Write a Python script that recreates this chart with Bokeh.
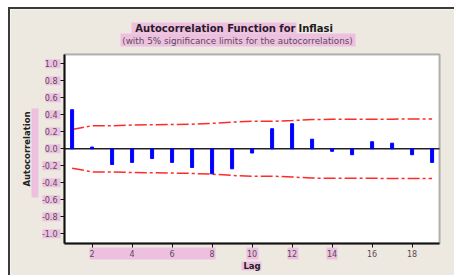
from bokeh.plotting import figure
from bokeh.models import Range1d, FixedTicker, NumeralTickFormatter, Label, BoxAnnotation
from bokeh.embed import file_html
from bokeh.resources import INLINE

lags = list(range(1, 20))
acf = [0.46, 0.02, -0.185, -0.16, -0.115, -0.16, -0.22, -0.295, -0.236, -0.05,
       0.236, 0.295, 0.113, -0.03, -0.07, 0.083, 0.066, -0.07, -0.16]
upper_limit = [0.228, 0.272, 0.272, 0.279, 0.283, 0.286, 0.290, 0.299, 0.314, 0.323,
               0.323, 0.332, 0.345, 0.347, 0.347, 0.348, 0.349, 0.350, 0.351]
lower_limit = [-0.228, -0.272, -0.272, -0.279, -0.283, -0.286, -0.290, -0.299, -0.314, -0.323,
               -0.323, -0.332, -0.345, -0.347, -0.347, -0.348, -0.349, -0.350, -0.351]
y_ticks = [-1.0, -0.8, -0.6, -0.4, -0.2, 0.0, 0.2, 0.4, 0.6, 0.8, 1.0]
x_ticks = [2, 4, 6, 8, 10, 12, 14, 16, 18]

title_main = "Autocorrelation Function for"
title_var = "Inflasi"
subtitle = "(with 5% significance limits for the autocorrelations)"

BG = "#EDE9E0"
PINK = "#EDC0E0"
FONT = "DejaVu Sans"

# canvas placement on the page
CX, CY = 10, 9          # canvas origin (page px)
W, H = 446, 268
# data window of the visible chart box and its page position
X0, X1, Y0, Y1 = 0.62, 19.37, -1.115, 1.11
FL, FR, FT, FB = 64, 439, 54, 243
sx = (FR - FL) / (X1 - X0)
sy = (FB - FT) / (Y1 - Y0)

def dx(px):
    return X0 + (px - FL) / sx

def dy(py):
    return Y0 + (FB - py) / sy

p = figure(width=W, height=H, output_backend="svg", toolbar_location=None,
           x_range=Range1d(dx(CX), dx(CX + W)), y_range=Range1d(dy(CY + H), dy(CY)),
           min_border=0, min_border_left=0, min_border_right=0,
           min_border_top=0, min_border_bottom=0,
           background_fill_color=BG, border_fill_color=BG)
p.outline_line_color = None
p.grid.visible = False

# chart box (white)
p.add_layout(BoxAnnotation(left=X0, right=X1, bottom=Y0, top=Y1, fill_color="white",
                           fill_alpha=1.0, line_color="#111111", line_width=2, level="underlay"))

# pink highlight boxes around texts
def pbox(l, r, t, b):
    return BoxAnnotation(left=dx(l), right=dx(r), top=dy(t), bottom=dy(b),
                         fill_color=PINK, fill_alpha=1.0, line_alpha=0, level="underlay")

boxes = [(31, 38, 108, 197), (89, 215, 247, 259), (246, 258, 247, 259),
         (287, 298, 247, 259), (326, 337, 247, 259), (241, 261, 261, 270),
         (131, 296, 22, 33), (120, 355, 33, 46)]
for v in y_ticks:
    py = FB - (v - Y0) * sy
    boxes.append((42 if v < 0 else 45, 60, py - 4.5, py + 4.5))
for box in boxes:
    p.add_layout(pbox(*box))

# significance limits, zero line, bars
p.line(lags, upper_limit, line_color="#FF2A2A", line_width=1.5, line_dash="12 3 3 3")
p.line(lags, lower_limit, line_color="#FF2A2A", line_width=1.5, line_dash="12 3 3 3")
p.segment(x0=[X0], x1=[X1], y0=[0], y1=[0], line_color="#222222", line_width=1.5)
p.vbar(x=lags, top=acf, bottom=0, width=0.15, fill_color="#0000FF", line_color="#0000FF")

# axes, pinned to the chart box
p.xaxis.fixed_location = Y0
p.yaxis.fixed_location = X0
p.xaxis.bounds = (X0, X1)
p.yaxis.bounds = (Y0, Y1)
p.xaxis.ticker = FixedTicker(ticks=x_ticks)
p.yaxis.ticker = FixedTicker(ticks=y_ticks)
p.yaxis.formatter = NumeralTickFormatter(format="0.0")
for ax in (p.xaxis[0], p.yaxis[0]):
    ax.background_fill_color = None
    ax.background_fill_alpha = 0
    ax.axis_line_color = "#111111"
    ax.axis_line_width = 2
    ax.major_tick_line_color = "#111111"
    ax.major_tick_out = 4
    ax.major_tick_in = 0
    ax.minor_tick_line_color = None
    ax.major_label_text_font = FONT
    ax.major_label_text_font_size = "8px"
    ax.major_label_text_color = "#5A4A5A"
    ax.axis_label_text_font = FONT
    ax.axis_label_text_font_size = "8.5px"
    ax.axis_label_text_font_style = "bold"
    ax.axis_label_text_color = "#222222"
p.xaxis.axis_label = "Lag"
p.yaxis.axis_label = "Autocorrelation"
p.xaxis.major_label_standoff = 2
p.xaxis.axis_label_standoff = 1
p.yaxis.major_label_standoff = 3
p.yaxis.axis_label_standoff = 7

# titles
p.add_layout(Label(x=dx(295), y=dy(28), text=title_main,
                   text_align="right", text_baseline="middle", text_font=FONT,
                   text_font_size="10px", text_font_style="bold", text_color="#2A1A2A"))
p.add_layout(Label(x=dx(298), y=dy(28), text=title_var,
                   text_align="left", text_baseline="middle", text_font=FONT,
                   text_font_size="10px", text_font_style="bold", text_color="#1A1A1A"))
p.add_layout(Label(x=dx(237), y=dy(40), text=subtitle,
                   text_align="center", text_baseline="middle", text_font=FONT,
                   text_font_size="8.8px", text_color="#5A4A5A"))

p.styles = {"margin-top": "7px", "margin-left": "8px",
            "border-top": "2px solid #3A3A3A", "border-left": "2px solid #3A3A3A"}

open("out.html", "w").write(file_html(p, INLINE))
